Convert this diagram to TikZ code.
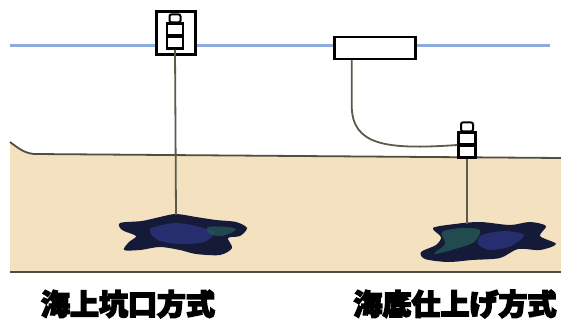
\documentclass[tikz,border=0pt]{standalone}
\usepackage{fontspec}
\newfontfamily\jpfont{Noto Sans CJK JP}[BoldFeatures={FakeBold=5}]
\usetikzlibrary{calc,positioning}
\definecolor{seaColor}{RGB}{140,172,222}
\definecolor{sandColor}{RGB}{243,225,192}
\definecolor{bedColor}{RGB}{80,78,66}
\definecolor{pipeColor}{RGB}{92,90,74}
\definecolor{oilColor}{RGB}{20,26,55}
\definecolor{oilBlue}{RGB}{50,60,150}
\definecolor{oilGreen}{RGB}{40,92,88}
\tikzset{unit/.style={draw=black, fill=white, line width=2.2pt, inner sep=0pt}}
\tikzset{treebody/.style={unit, minimum width=16pt, minimum height=25pt, path picture={\draw[line width=4.5pt] (path picture bounding box.west) -- (path picture bounding box.east);}}}
\tikzset{treecap/.style={unit, line width=2pt, rounded corners=2pt, minimum width=11pt, minimum height=8pt}}
\tikzset{pipe/.style={draw=pipeColor, line width=1.8pt}}
\tikzset{bed/.style={draw=bedColor, line width=1.8pt}}
\tikzset{caption/.style={font=\jpfont\bfseries\fontsize{29}{29}\selectfont, inner sep=0pt}}

\begin{document}
\begin{tikzpicture}[x=1pt, y=-1pt]
	\useasboundingbox (0,0) rectangle (561,320);

	% Seabed and sea surface
	\fill[sandColor] (10,142) .. controls (18,148) and (24,153) .. (34,154) -- (561,158) -- (561,272) -- (10,272) -- cycle;
	\draw[bed] (10,142) .. controls (18,148) and (24,153) .. (34,154) -- (561,158);
	\draw[bed] (10,272) -- (561,272);
	\draw[draw=seaColor, line width=3pt] (10,46) -- (550,46);

	% Oil reservoirs
	\fill[oilColor] plot[smooth cycle] coordinates {(120,223) (142,221) (160,217) (176,214) (196,217) (216,220) (236,222) (247,228) (240,236) (228,238) (232,248) (220,255) (196,254) (180,250) (160,247) (140,250) (124,250) (129,242) (136,236) (122,230)};
	\fill[oilBlue, opacity=.6] plot[smooth cycle] coordinates {(150,229) (175,223) (200,227) (214,233) (204,242) (180,244) (158,240)};
	\fill[oilGreen, opacity=.7] plot[smooth cycle] coordinates {(208,227) (228,227) (236,230) (222,236) (210,234)};
	\coordinate (oilL) at (176,215);

	\fill[oilColor] plot[smooth cycle] coordinates {(433,228) (455,224) (480,222) (510,225) (530,222) (546,226) (540,236) (556,244) (540,250) (518,249) (500,258) (472,260) (448,262) (425,259) (421,252) (436,245) (441,237)};
	\fill[oilGreen, opacity=.75] plot[smooth cycle] coordinates {(442,232) (462,228) (480,230) (474,242) (455,249) (434,254) (445,244)};
	\fill[oilBlue, opacity=.6] plot[smooth cycle] coordinates {(482,235) (505,231) (524,235) (511,246) (490,250) (478,244)};
	\coordinate (oilR) at (467,224);

	% Nodes
	\node (hull) [unit, minimum width=39pt, minimum height=43pt] at (176,33) {};
	\node (wellL) [treebody] at (175,36) {};
	\node (capL) [treecap, above=-1pt of wellL] {};

	\node (platform) [unit, minimum width=81pt, minimum height=22pt] at (375,48) {};
	\node (wellR) [treebody, minimum width=17pt] at (467,145) {};
	\node (capR) [treecap, minimum width=12pt, minimum height=9pt, above=-1pt of wellR] {};

	\node (captionL) [caption] at (128,304) {海上坑口方式};
	\node (captionR) [caption] at (455,304) {海底仕上げ方式};

	% Connectors
	\begin{scope}[pipe]
		\draw (wellL.south) -- (oilL);
		\draw (wellR.south) -- (oilR);
		\draw ($(platform.south west)!.22!(platform.south east)$) -- ++(0,45) .. controls ++(0,40) and (385,150) .. (wellR.west);
	\end{scope}

\end{tikzpicture}
\end{document}
